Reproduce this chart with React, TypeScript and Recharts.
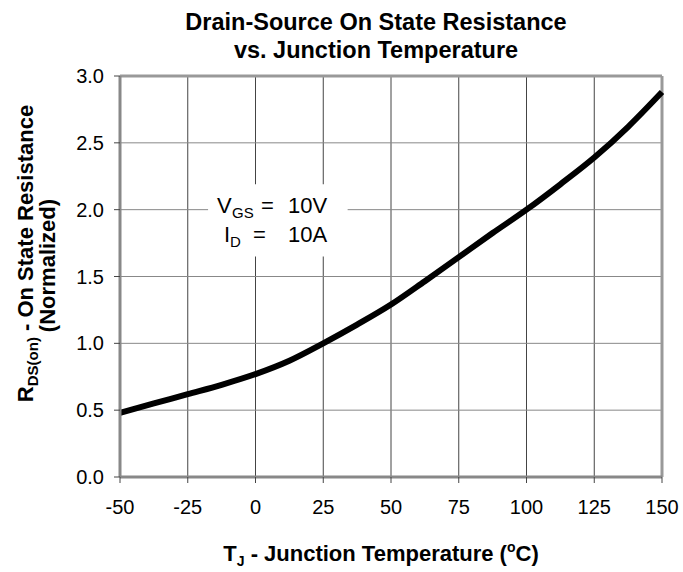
import React from "react";
import { LineChart, Line, XAxis, YAxis, CartesianGrid, ReferenceLine, ReferenceArea, Label } from "recharts";

const temps = [-50, -37.5, -25, -12.5, 0, 12.5, 25, 37.5, 50, 62.5, 75, 87.5, 100, 112.5, 125, 137.5, 150];
const rdsOn = [0.48, 0.55, 0.62, 0.69, 0.77, 0.87, 1.0, 1.14, 1.29, 1.465, 1.645, 1.825, 2.0, 2.19, 2.39, 2.62, 2.88];
const xTicks = [-50, -25, 0, 25, 50, 75, 100, 125, 150];
const yTicks = [0, 0.5, 1.0, 1.5, 2.0, 2.5, 3.0];

const data = temps.map((t, i) => ({ t, r: rdsOn[i] }));
const FONT = "'Liberation Sans', Arial, sans-serif";

// conditions box text
const NoteLabel = (props: any) => {
  const { viewBox } = props;
  const x = viewBox.x;
  const y = viewBox.y;
  return (
    <g fontFamily={FONT} fontSize={22} fill="#000">
      <text x={x + 9} y={y + 29}>V</text>
      <text x={x + 24} y={y + 34} fontSize={15}>GS</text>
      <text x={x + 53} y={y + 29}>=</text>
      <text x={x + 80} y={y + 29}>10V</text>
      <text x={x + 16} y={y + 58}>I</text>
      <text x={x + 22} y={y + 63} fontSize={15}>D</text>
      <text x={x + 45} y={y + 58}>=</text>
      <text x={x + 80} y={y + 58}>10A</text>
    </g>
  );
};

const YTitle = (props: any) => {
  const { viewBox } = props;
  const cy = viewBox.y + viewBox.height / 2;
  return (
    <g fontFamily={FONT} fontWeight="bold" fontSize={22} fill="#000">
      <text transform={`translate(33, ${cy - 23}) rotate(-90)`} textAnchor="middle">
        R<tspan fontSize={15} dy={5}>DS(on)</tspan>
        <tspan dy={-5}> - On State Resistance</tspan>
      </text>
      <text transform={`translate(55, ${cy - 11}) rotate(-90)`} textAnchor="middle">(Normalized)</text>
    </g>
  );
};

const XTitle = (props: any) => {
  const { viewBox } = props;
  const cx = viewBox.x + viewBox.width / 2 - 10;
  return (
    <text x={cx} y={561} textAnchor="middle" fontFamily={FONT} fontWeight="bold" fontSize={22} fill="#000">
      T<tspan fontSize={14} dy={5}>J</tspan>
      <tspan dy={-5}> - Junction Temperature (</tspan>
      <tspan fontSize={14} dy={-9}>o</tspan>
      <tspan dy={9}>C)</tspan>
    </text>
  );
};

export default function App() {
  return (
    <div style={{ position: "absolute", left: 0, top: 0, width: 683, height: 572, background: "#fff" }}>
      <div style={{ position: "absolute", left: 0, top: 9, width: 683, textAlign: "center", fontFamily: FONT, fontWeight: "bold", fontSize: 23.5, lineHeight: "27.5px", paddingLeft: 69, boxSizing: "border-box" }}>
        Drain-Source On State Resistance<br />vs. Junction Temperature
      </div>
      <LineChart width={683} height={572} data={data} margin={{ top: 76, right: 21, left: 60, bottom: 65 }}>
        <CartesianGrid horizontal={false} stroke="#444" strokeWidth={1} />
        <CartesianGrid vertical={false} stroke="#888" strokeWidth={1} />
        <XAxis
          dataKey="t"
          type="number"
          domain={[-50, 150]}
          ticks={xTicks}
          height={30}
          stroke="#888"
          strokeWidth={3}
          tickSize={6}
          tickMargin={17}
          tickLine={{ stroke: "#444", strokeWidth: 1 }}
          tick={{ fill: "#000", fontSize: 20, fontFamily: FONT }}
        >
          <Label content={<XTitle />} />
        </XAxis>
        <YAxis
          type="number"
          domain={[0, 3]}
          ticks={yTicks}
          tickFormatter={(v: number) => v.toFixed(1)}
          width={60}
          stroke="#888"
          strokeWidth={3}
          tickSize={6}
          tickMargin={10}
          tickLine={{ stroke: "#444", strokeWidth: 1 }}
          tick={{ fill: "#000", fontSize: 20, fontFamily: FONT }}
        >
          <Label content={<YTitle />} />
        </YAxis>
        <ReferenceLine y={3} stroke="#999" strokeWidth={3} />
        <ReferenceLine x={150} stroke="#999" strokeWidth={3} />
        <ReferenceArea x1={-17.5} x2={34} y1={1.65} y2={2.19} fill="#fff" fillOpacity={1} stroke="none" label={<NoteLabel />} />
        <Line type="monotone" dataKey="r" stroke="#000" strokeWidth={6} dot={false} isAnimationActive={false} />
      </LineChart>
    </div>
  );
}
